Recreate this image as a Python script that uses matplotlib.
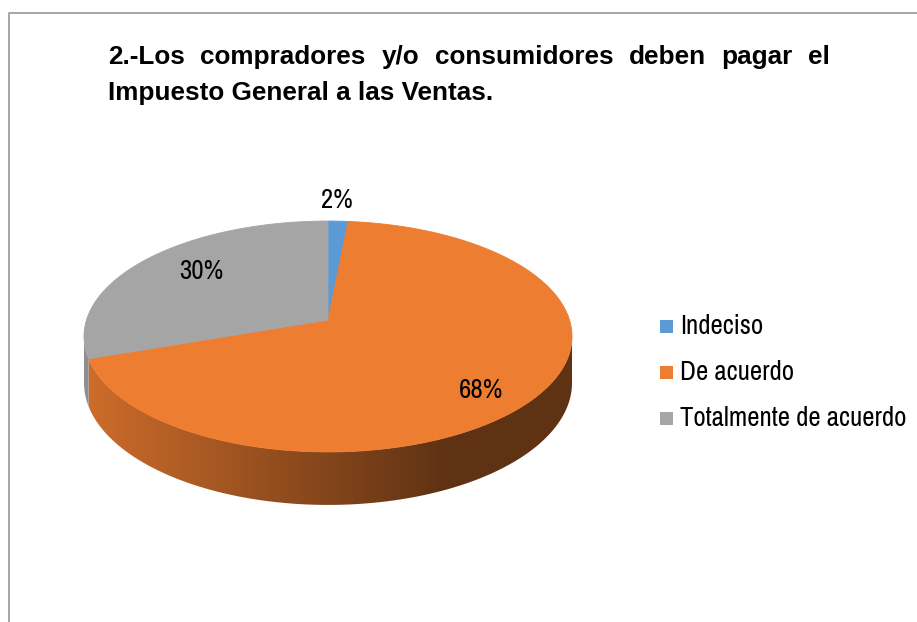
import numpy as np
import matplotlib
matplotlib.use("Agg")
import matplotlib.pyplot as plt
from matplotlib.patches import Polygon, Rectangle
from matplotlib import font_manager
from matplotlib.font_manager import FontProperties
from matplotlib.colors import to_rgb

# ---------------- data ----------------
categories = ["Indeciso", "De acuerdo", "Totalmente de acuerdo"]
counts = [1, 45, 20]
colors = ["#5B9BD5", "#ED7D31", "#A5A5A5"]
title_line1 = "2.-Los compradores y/o consumidores deben pagar el"
title_line2 = "Impuesto General a las Ventas."

# ---------------- fonts: look for a narrow / condensed sans ----------------
def _is_bold(f):
    w = f.weight
    if isinstance(w, str):
        return w in ("bold", "heavy", "extra bold", "black", "semibold", "demibold")
    return w >= 600


def find_narrow():
    prefs = ["liberation sans narrow", "roboto condensed", "open sans condensed",
             "dejavu sans condensed", "noto sans condensed"]
    found = {}
    for f in font_manager.fontManager.ttflist:
        nm = f.name.lower()
        fn = f.fname.lower()
        if f.style != "normal":
            continue
        key = None
        if "narrow" in nm or "narrow" in fn:
            key = "liberation sans narrow"
        elif "condensed" in nm or "condensed" in fn or str(f.stretch) in ("condensed", "semi-condensed", "extra-condensed"):
            if "roboto" in nm:
                key = "roboto condensed"
            elif "open sans" in nm:
                key = "open sans condensed"
            elif "dejavu sans" in nm and "mono" not in nm:
                key = "dejavu sans condensed"
            elif "noto sans" in nm and "mono" not in nm and "cjk" not in nm:
                key = "noto sans condensed"
        if key is None:
            continue
        d = found.setdefault(key, {})
        k2 = "bold" if _is_bold(f) else "regular"
        d.setdefault(k2, f.fname)
    for p in prefs:
        if p in found and "regular" in found[p]:
            return p, found[p]["regular"]
    return None, None


kind, reg_file = find_narrow()
if kind is not None:
    FS = {"liberation sans narrow": 20, "roboto condensed": 19,
          "open sans condensed": 18, "dejavu sans condensed": 17,
          "noto sans condensed": 18}[kind] * 0.965
    FP = FontProperties(fname=reg_file, size=FS)
else:
    FS = 15.5
    FP = FontProperties(family="Liberation Sans", size=FS)
FPB = FontProperties(family="Liberation Sans", size=18.8, weight="bold")

W, H = 917, 622
fig = plt.figure(figsize=(W / 100, H / 100), dpi=100)
ax = fig.add_axes([0, 0, 1, 1])
ax.set_xlim(0, W)
ax.set_ylim(H, 0)
ax.axis("off")

# chart area border (extends beyond right/bottom)
ax.plot([9, 9, W + 5], [H + 5, 13, 13], color="#A6A6A6", lw=1.4, solid_capstyle="butt")

# ---------------- 3D pie geometry (perspective) ----------------
CX, CY0 = 328, 320
A, B = 241.5, 113.1
K = 0.1429
D = 45.4


def proj(theta_deg, r=1.0):
    t = np.radians(theta_deg)
    X = r * np.sin(t)
    Y = -r * np.cos(t)
    w = 1 - K * Y
    return CX + A * X / w, CY0 + B * Y / w, w


total = float(sum(counts))
fracs = [c / total for c in counts]
bounds = np.concatenate([[0], np.cumsum(fracs)]) * 360.0

vis_lo = np.degrees(np.arccos(-K))
vis_hi = 360 - vis_lo


def shade(x):
    return np.interp(x, [84, 445], [0.87, 0.40])


# sides
for i in range(len(counts)):
    t1, t2 = bounds[i], bounds[i + 1]
    a, b = max(t1, vis_lo), min(t2, vis_hi)
    if b <= a:
        continue
    th = np.linspace(a, b, 200)
    x, y, w = proj(th)
    yb = y + D / w
    pts = np.vstack([np.column_stack([x, y]), np.column_stack([x[::-1], yb[::-1]])])
    poly = Polygon(pts, closed=True, facecolor="none", edgecolor="none")
    ax.add_patch(poly)
    xs = np.linspace(x.min() - 2, x.max() + 2, 400)
    base = np.array(to_rgb(colors[i]))
    img = (base[None, :] * shade(xs)[:, None])[None, :, :]
    im = ax.imshow(np.clip(img, 0, 1), extent=[xs[0], xs[-1], yb.max() + 2, y.min() - 2],
                   aspect="auto", interpolation="bilinear", zorder=1)
    im.set_clip_path(poly)

# top faces
for i in range(len(counts)):
    t1, t2 = bounds[i], bounds[i + 1]
    th = np.linspace(t1, t2, 300)
    x, y, _ = proj(th)
    pts = np.vstack([[CX, CY0], np.column_stack([x, y])])
    ax.add_patch(Polygon(pts, closed=True, facecolor=colors[i], edgecolor=colors[i],
                         lw=0.6, zorder=2))

# percentage labels
label_r = [1.25, 0.78, 0.7]
label_off = [(-3, 0), (-6, 12), (3, -5)]
for i in range(len(counts)):
    mid = (bounds[i] + bounds[i + 1]) / 2
    lx, ly, _ = proj(mid, label_r[i])
    ax.text(lx + label_off[i][0], ly + label_off[i][1], f"{round(100 * fracs[i])}%",
            ha="center", va="center", fontproperties=FP, color="black", zorder=5)

# legend
leg_y = [334, 380, 426]
for i, cat in enumerate(categories):
    ax.add_patch(Rectangle((660, leg_y[i] - 14), 13, 13, facecolor=colors[i],
                           edgecolor="none", zorder=5))
    ax.text(680, leg_y[i], cat, ha="left", va="baseline", fontproperties=FP,
            color="black", zorder=5)

# title (justified first line)
fig.canvas.draw()
rend = fig.canvas.get_renderer()
words = title_line1.split()
tmp = [ax.text(0, 64, wd, fontproperties=FPB, va="baseline", ha="left") for wd in words]
widths = [t.get_window_extent(rend).width for t in tmp]
x0, x1 = 108, 830
gap = (x1 - x0 - sum(widths)) / (len(words) - 1)
xpos = x0
for t, wdt in zip(tmp, widths):
    t.set_x(xpos)
    xpos += wdt + gap
ax.text(x0, 100, title_line2, fontproperties=FPB, va="baseline", ha="left")

fig.savefig("out.png", dpi=100, facecolor="white")
